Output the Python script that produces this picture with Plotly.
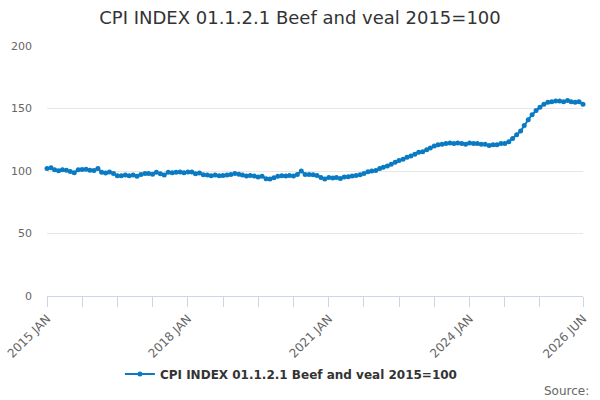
import pandas as pd
import plotly.graph_objects as go

SERIES_NAME = "CPI INDEX 01.1.2.1 Beef and veal 2015=100"

# monthly index values, 2015 JAN .. 2026 JUN
values = [
    102.1, 102.6, 101.0, 100.3, 101.0, 100.7, 99.7, 98.7, 101.0, 101.3, 101.5, 100.7,
    100.5, 102.1, 99.0, 98.4, 99.2, 98.1, 96.3, 96.3, 96.8, 96.3, 96.8, 95.8,
    97.3, 98.1, 98.1, 97.5, 99.0, 97.8, 96.8, 99.0, 98.7, 99.0, 99.2, 98.7,
    99.2, 99.2, 97.8, 98.4, 97.0, 96.8, 96.3, 96.8, 96.3, 96.5, 96.8, 97.3,
    98.1, 97.5, 96.8, 96.0, 96.5, 96.0, 95.3, 95.8, 93.9, 93.6, 94.7, 95.8,
    96.3, 96.0, 96.5, 96.0, 97.3, 100.0, 97.3, 97.3, 97.0, 96.5, 94.9, 93.6,
    94.9, 94.4, 94.9, 94.1, 95.2, 95.5, 96.0, 96.5, 97.0, 98.0, 99.5, 100.0,
    100.5, 102.0, 103.0, 104.0, 105.5, 107.0, 108.5, 109.5, 111.0, 112.0, 113.5, 115.0,
    115.5, 117.0, 118.5, 120.0, 121.0, 121.5, 122.0, 122.5, 122.0, 122.5, 122.0, 121.5,
    122.5, 122.0, 122.0, 121.5, 121.5, 120.5, 121.0, 121.0, 122.0, 122.0, 123.5, 126.0,
    129.0, 132.0, 136.5, 141.0, 145.0, 148.5, 151.0, 153.5, 155.0, 155.5, 156.0, 156.0,
    155.5, 156.5, 155.5, 155.0, 155.5, 153.5,
]
dates = pd.date_range("2015-01-01", periods=len(values), freq="MS")

# ticks every 9 months, labels every 36 months, plus the last month
tick_idx = list(range(0, len(values) - 9, 9)) + [len(values) - 1]
tick_vals = [dates[i] for i in tick_idx]
tick_text = [
    dates[i].strftime("%Y %b").upper() if (i % 36 == 0 or i == len(values) - 1) else ""
    for i in tick_idx
]

fig = go.Figure(
    go.Scatter(
        x=dates,
        y=values,
        name=SERIES_NAME,
        mode="lines+markers",
        line=dict(color="#0a7bc2", width=2),
        marker=dict(color="#0a7bc2", size=5),
        cliponaxis=False,
    )
)

fig.update_layout(
    width=600,
    height=400,
    margin=dict(l=47, r=17, t=46, b=104),
    paper_bgcolor="white",
    plot_bgcolor="white",
    font=dict(family="DejaVu Sans", color="#666666", size=11),
    title=dict(
        text=SERIES_NAME,
        x=0.5,
        xanchor="center",
        y=0.955,
        yanchor="middle",
        font=dict(size=18, color="#333333"),
    ),
    showlegend=True,
    legend=dict(
        orientation="h",
        x=0.456,
        xanchor="center",
        y=-0.312,
        yanchor="middle",
        itemwidth=30,
        font=dict(size=12, color="#333333", weight="bold"),
    ),
    xaxis=dict(
        range=[dates[0], dates[-1]],
        tickvals=tick_vals,
        ticktext=tick_text,
        tickangle=-45,
        ticks="outside",
        ticklen=10,
        tickcolor="#ccd6eb",
        showline=True,
        linecolor="#ccd6eb",
        showgrid=False,
        zeroline=False,
        automargin=False,
        tickfont=dict(size=12),
    ),
    yaxis=dict(
        range=[0, 200],
        tickvals=[0, 50, 100, 150, 200],
        gridcolor="#e6e6e6",
        showline=False,
        zeroline=False,
        ticks="",
        ticklabelstandoff=14,
        automargin=False,
        tickfont=dict(size=11),
    ),
    annotations=[
        dict(
            text="Source:",
            xref="paper",
            yref="paper",
            x=1.015,
            y=-0.38,
            xanchor="right",
            yanchor="middle",
            showarrow=False,
            font=dict(size=12, color="#666666"),
        )
    ],
)

# drop the browser's default 8px body margin so the figure sits at (0, 0)
fig.write_html(
    "out.html",
    config={"displayModeBar": False},
    post_script="document.body.style.margin = '0';",
)
